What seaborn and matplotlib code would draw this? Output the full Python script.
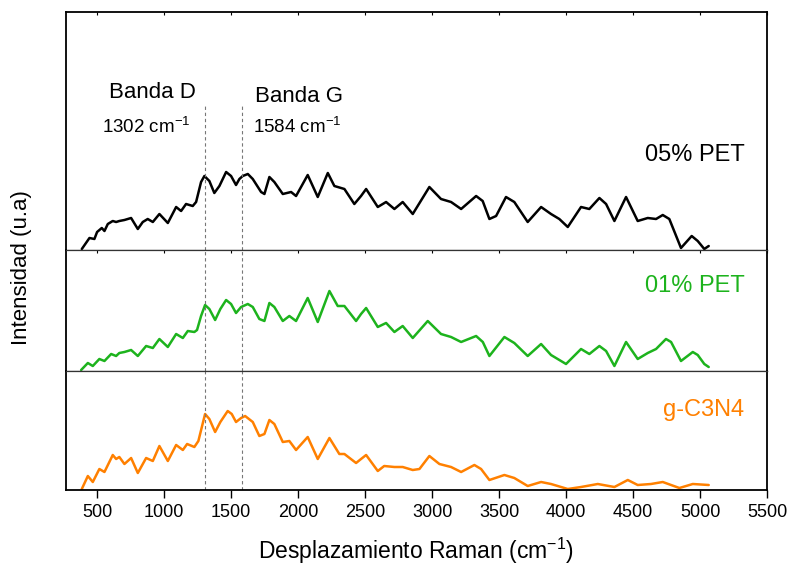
import matplotlib
matplotlib.use("Agg")
import matplotlib.pyplot as plt
import numpy as np
import pandas as pd
import seaborn as sns

# Raman shift (cm-1) and relative intensity (a.u.) for each sample
pet05_shift = [386, 443, 480, 500, 535, 555, 580, 617, 642, 666, 704, 754, 804, 841, 878, 916,
               965, 1028, 1090, 1127, 1164, 1214, 1239, 1276, 1301, 1338, 1375, 1413, 1463,
               1500, 1537, 1562, 1587, 1625, 1662, 1724, 1749, 1786, 1823, 1886, 1948, 1985,
               2072, 2147, 2222, 2271, 2346, 2420, 2470, 2508, 2595, 2657, 2719, 2781, 2856,
               2980, 3067, 3142, 3217, 3329, 3378, 3428, 3478, 3552, 3614, 3714, 3814, 3888,
               3950, 4013, 4112, 4174, 4249, 4299, 4361, 4448, 4535, 4610, 4672, 4722, 4771,
               4858, 4938, 4983, 5032, 5065]
pet05_int = [0, 11, 10, 17, 21, 18, 25, 28, 27, 28, 29, 31, 20, 27, 30, 27,
             35, 26, 42, 38, 45, 43, 47, 67, 73, 68, 56, 63, 77,
             73, 64, 70, 73, 75, 70, 57, 55, 72, 67, 55, 57, 53,
             74, 52, 76, 63, 60, 45, 53, 60, 42, 47, 40, 47, 35,
             62, 50, 47, 40, 53, 48, 30, 33, 52, 47, 27, 42, 35,
             30, 22, 42, 40, 51, 45, 28, 52, 28, 31, 30, 34, 30,
             1, 13, 8, 0, 3]

pet01_shift = [381, 431, 468, 517, 555, 605, 642, 666, 704, 754, 804, 866, 916, 965, 1028,
               1090, 1140, 1177, 1226, 1246, 1276, 1306, 1338, 1381, 1420, 1463, 1500, 1537,
               1575, 1625, 1662, 1711, 1749, 1786, 1823, 1886, 1935, 1985, 2072, 2147, 2234,
               2296, 2346, 2433, 2470, 2508, 2595, 2657, 2719, 2781, 2856, 2968, 3067, 3142,
               3217, 3329, 3379, 3428, 3540, 3614, 3714, 3814, 3888, 4000, 4112, 4174, 4249,
               4299, 4361, 4448, 4535, 4610, 4672, 4746, 4784, 4858, 4946, 4983, 5032, 5065]
pet01_int = [0, 7, 4, 11, 9, 16, 14, 17, 18, 20, 14, 24, 22, 31, 23,
             36, 32, 39, 38, 40, 54, 65, 61, 50, 61, 70, 66, 57,
             63, 66, 63, 51, 49, 67, 63, 49, 54, 49, 72, 48, 79,
             64, 64, 49, 56, 62, 43, 47, 38, 44, 32, 49, 36, 33,
             28, 34, 28, 14, 33, 27, 14, 26, 15, 6, 21, 16, 24,
             19, 4, 28, 11, 17, 21, 31, 28, 9, 18, 15, 6, 3]

gc3n4_shift = [386, 431, 468, 517, 555, 617, 642, 666, 704, 754, 804, 866, 916, 965, 1028,
               1090, 1140, 1172, 1226, 1256, 1306, 1338, 1381, 1420, 1475, 1505, 1537, 1575,
               1605, 1662, 1711, 1749, 1786, 1823, 1886, 1935, 1985, 2072, 2147, 2234, 2308,
               2346, 2433, 2470, 2508, 2595, 2643, 2719, 2781, 2856, 2906, 2980, 3055, 3142,
               3217, 3316, 3366, 3428, 3540, 3614, 3714, 3814, 3888, 4013, 4112, 4237, 4361,
               4461, 4535, 4634, 4722, 4846, 4946, 5065]
gc3n4_int = [0, 13, 7, 20, 17, 34, 30, 32, 25, 31, 16, 31, 28, 43, 28,
             44, 39, 45, 42, 48, 75, 70, 57, 67, 78, 75, 67, 71,
             73, 67, 53, 55, 69, 65, 47, 48, 39, 52, 30, 51, 35,
             35, 26, 30, 34, 18, 23, 22, 22, 19, 20, 33, 25, 22,
             17, 24, 20, 9, 14, 11, 3, 7, 5, 0, 2, 5, 2,
             9, 4, 5, 7, 1, 5, 4]

sample_names = ["05% PET", "01% PET", "g-C3N4"]
sample_colors = ["#000000", "#1db31d", "#ff8000"]
band_positions = [1302, 1584]
band_names = ["Banda D", "Banda G"]
x_ticks = [500, 1000, 1500, 2000, 2500, 3000, 3500, 4000, 4500, 5000, 5500]

sns.set_theme(style="ticks")
plt.rcParams["font.family"] = ["Liberation Sans", "DejaVu Sans"]
plt.rcParams["mathtext.fontset"] = "custom"
plt.rcParams["mathtext.rm"] = "Liberation Sans"
plt.rcParams["text.color"] = "black"
plt.rcParams["axes.labelcolor"] = "black"
plt.rcParams["xtick.color"] = "black"
plt.rcParams["ytick.color"] = "black"
plt.rcParams["axes.edgecolor"] = "black"

frames = [
    pd.DataFrame({"shift": pet05_shift, "intensity": pet05_int}),
    pd.DataFrame({"shift": pet01_shift, "intensity": pet01_int}),
    pd.DataFrame({"shift": gc3n4_shift, "intensity": gc3n4_int}),
]

fig = plt.figure(figsize=(7.91, 5.67), dpi=100)
gs = fig.add_gridspec(3, 1, height_ratios=[238, 121, 119], hspace=0,
                      left=66 / 791, right=767 / 791, top=1 - 12 / 567, bottom=1 - 490 / 567)
axes = [fig.add_subplot(gs[i]) for i in range(3)]
for ax in axes[1:]:
    ax.sharex(axes[0])

ylims = [(-1, 237), (-1, 120), (-1, 118)]
label_y = [0.40, 0.70, 0.67]

for i, (ax, df) in enumerate(zip(axes, frames)):
    sns.lineplot(data=df, x="shift", y="intensity", ax=ax, color=sample_colors[i],
                 linewidth=1.8, estimator=None, sort=False)
    ax.set_ylim(*ylims[i])
    ax.set_xlim(268, 5500)
    ax.set_ylabel("")
    ax.set_xlabel("")
    ax.set_yticks([])
    for s in ax.spines.values():
        s.set_linewidth(1.3)
        s.set_color("black")
    if i > 0:
        ax.spines["top"].set_linewidth(0.9)
        ax.spines["top"].set_color("#333333")
    if i < 2:
        ax.spines["bottom"].set_linewidth(0.9)
        ax.spines["bottom"].set_color("#333333")
        ax.tick_params(axis="x", which="both", bottom=False, labelbottom=False,
                       top=True, direction="in", length=2, width=0.8)
    ymax = 0.61 if i == 0 else 1.0
    for b in band_positions:
        ax.axvline(b, ymin=0, ymax=ymax, color="#777777", linestyle=(0, (3, 2.5)), linewidth=0.8)
    ax.text(0.968, label_y[i], sample_names[i], transform=ax.transAxes, ha="right",
            va="center", fontsize=17, color=sample_colors[i])

axes[2].set_xticks(x_ticks)
axes[2].tick_params(axis="x", which="major", direction="out", length=6, width=1.0,
                    labelsize=13, pad=4, top=False)
axes[0].tick_params(axis="x", top=True, direction="in", length=2)

# Band annotations above the dashed guide lines
top = axes[0]
top.text(152 / 791, 1 - 93 / 567, band_names[0], transform=fig.transFigure,
         ha="center", va="center", fontsize=16)
top.text(146 / 791, 1 - 127 / 567, f"{band_positions[0]} cm$^{{-1}}$", transform=fig.transFigure,
         ha="center", va="center", fontsize=13.5)
top.text(299 / 791, 1 - 96 / 567, band_names[1], transform=fig.transFigure,
         ha="center", va="center", fontsize=16)
top.text(297 / 791, 1 - 127 / 567, f"{band_positions[1]} cm$^{{-1}}$", transform=fig.transFigure,
         ha="center", va="center", fontsize=13.5)

fig.text(416 / 791, 1 - 551 / 567, "Desplazamiento Raman (cm$^{-1}$)", ha="center",
         va="center", fontsize=16.5)
fig.text(22 / 791, 1 - 268 / 567, "Intensidad (u.a)", ha="center", va="center",
         rotation=90, fontsize=16)

fig.savefig("out.png", dpi=100)
